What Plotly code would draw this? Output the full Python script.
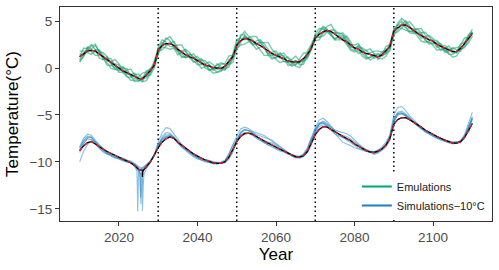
import plotly.graph_objects as go

years = list(range(2010, 2111))
breaks = [2030, 2050, 2070, 2090]
x_ticks = [2020, 2040, 2060, 2080, 2100]
y_ticks = [-15, -10, -5, 0, 5]

emu_mean = [
    1.2, 1.5, 1.8, 1.9, 1.8, 1.5, 1.2, 0.9, 0.55, 0.3,
    0.0, -0.3, -0.5, -0.7, -0.85, -1.1, -1.15, -0.75, -0.3, 0.3,
    1.9, 2.4, 2.6, 2.6, 2.4, 2.0, 1.7, 1.4, 1.2, 1.05,
    0.8, 0.55, 0.3, 0.2, 0.05, 0.0, -0.05, 0.2, 0.7, 1.2,
    2.4, 2.9, 3.15, 3.1, 2.9, 2.6, 2.4, 2.1, 1.8, 1.55,
    1.35, 1.2, 1.0, 0.75, 0.65, 0.65, 0.65, 1.0, 1.45, 2.1,
    3.2, 3.6, 3.85, 4.0, 3.9, 3.6, 3.3, 3.0, 2.8, 2.5,
    2.15, 2.0, 1.7, 1.55, 1.45, 1.35, 1.2, 1.4, 1.85, 2.3,
    3.9, 4.3, 4.55, 4.6, 4.35, 4.0, 3.7, 3.45, 3.2, 3.0,
    2.85, 2.5, 2.3, 2.1, 1.9, 1.75, 1.75, 2.1, 2.6, 3.1, 3.7,
]

sim_mean = [
    -8.8, -8.3, -7.95, -7.85, -8.1, -8.4, -8.65, -8.9, -9.1, -9.3,
    -9.5, -9.7, -9.9, -10.1, -10.4, -10.8, -10.9, -10.5, -10.0, -9.3,
    -8.5, -7.9, -7.55, -7.35, -7.5, -7.9, -8.25, -8.55, -8.85, -9.15,
    -9.4, -9.6, -9.8, -9.95, -10.1, -10.15, -10.15, -10.0, -9.5, -8.7,
    -7.85, -7.3, -7.0, -6.95, -7.05, -7.3, -7.55, -7.8, -8.0, -8.2,
    -8.45, -8.65, -8.85, -9.05, -9.25, -9.45, -9.5, -9.35, -8.9, -8.0,
    -7.1, -6.55, -6.25, -6.3, -6.55, -6.8, -7.05, -7.3, -7.5, -7.75,
    -8.1, -8.35, -8.6, -8.8, -8.95, -9.0, -8.85, -8.6, -8.2, -7.5,
    -6.0, -5.5, -5.3, -5.3, -5.5, -5.75, -6.0, -6.3, -6.6, -6.85,
    -7.05, -7.3, -7.5, -7.7, -7.85, -8.0, -8.0, -7.85, -7.4, -6.7, -5.9,
]

# member deviations from the mean, in units of 0.15 degC
EMU_UNIT = 0.15
emu_g1 = [2, -1, 3, 1, 4, 2, -2, 1, 3, 0,
          -3, -1, 2, 4, 1, -2, 0, 3, 1, -1,
          2, 4, 1, -2, -1, 3, 5, 2, -1, 0,
          3, 1, -2, -3, 0, 2, 4, 1, -1, 2,
          4, 2, -1, 1, 3, 5, 2, 0, -2, 1,
          3, 0, -2, -1, 2, 4, 1, -1, 2, 3,
          1, -2, 0, 3, 5, 2, -1, 1, 4, 2,
          -1, -3, 0, 2, 4, 1, -2, 0, 3, 1,
          2, 0, -2, 1, 4, 3, 0, -2, 1, 3,
          2, -1, -3, 0, 3, 1, -1, 2, 4, 1, 0]
emu_g2 = [-2, 1, -1, -3, 0, 2, -1, -4, -2, 1,
          2, -1, -3, -2, 1, 3, 0, -2, -1, 2,
          -1, -3, -2, 1, 0, -2, -4, -1, 2, 1,
          -2, -4, -1, 1, -1, -3, -2, 0, -2, -1,
          -3, -1, 2, 0, -2, -4, -1, 1, -1, -3,
          -2, 1, 2, -1, -3, -2, 0, -2, -1, 1,
          -2, -4, -1, 0, -2, -3, 0, 2, -1, -2,
          0, 2, -1, -3, -2, 1, 2, -1, -2, 0,
          -3, -1, 1, -2, -4, -2, 0, 1, -1, -3,
          -1, 1, 2, -1, -3, -2, 0, -1, -3, -1, 1]
emu_g3 = [4, 2, 0, 3, 5, 1, 3, 2, -1, -2,
          0, 3, 1, -1, -2, 1, 4, 2, 0, 3,
          1, 0, 3, 5, 2, -1, 1, 4, 3, 0,
          -1, 2, 3, 1, -2, 0, 3, 2, 4, 1,
          0, 3, 5, 2, 1, -1, 2, 4, 6, 3,
          1, -1, 0, 3, 1, -2, 2, 4, 1, -1,
          3, 4, 2, -1, 1, 3, 2, 5, 3, 0,
          2, 4, 1, -1, 1, 3, 4, 2, -1, 2,
          0, 3, 5, 2, -1, 1, 3, 5, 2, 0,
          1, 3, 1, -2, 0, 2, 3, 1, -1, 2, 3]
emu_g4 = [-3, -2, 1, -1, -3, -1, 0, -2, -4, -3,
          -1, 0, -2, -4, -3, -1, -2, -4, -2, 0,
          -2, -1, -3, -4, -2, -1, -3, -2, 0, -2,
          -3, -1, 0, -2, -4, -3, -1, -3, -2, -4,
          -2, -3, -4, -2, 0, -1, -3, -5, -3, -1,
          -3, -4, -2, 0, -1, -3, -4, -2, -3, -1,
          0, -2, -3, -1, -3, -4, -2, 0, -2, -4,
          -3, -1, -3, -4, -2, 0, -1, -3, -4, -2,
          -1, -3, -2, -4, -3, -1, -2, -4, -3, -1,
          -3, -4, -2, 0, -2, -4, -3, -1, -2, -3, -2]
emu_g5 = [0, 4, 2, -1, 1, 3, 1, -1, 1, 4,
          3, 1, -1, 0, 2, 0, -2, 1, 2, -1,
          0, 2, -1, 0, 3, 1, -1, -2, 1, 3,
          1, -1, 1, 3, 2, -1, 0, -2, 1, 0,
          2, 0, 1, -1, -2, 2, 4, 3, 1, -1,
          0, 2, 4, 2, 0, 1, -1, 0, -2, 0,
          2, 1, 3, 0, -1, 1, 3, 4, 1, -1,
          0, 1, 3, 2, 0, -2, 0, 2, 1, -1,
          1, 2, 0, 3, 1, -1, 1, 2, 4, 2,
          0, -2, 0, 2, 1, -1, 0, 3, 1, 0, -1]
emu_g6 = [-4, -1, 2, 4, 1, -3, -2, 2, 0, -3,
          -2, 2, 3, -1, -4, -2, 1, -1, -3, -2,
          -3, 1, 4, 2, -2, -4, 0, 3, 0, -3,
          0, 3, 1, -3, -1, 3, 1, -2, -4, -1,
          -1, 4, 3, -1, -3, 0, 3, 1, -3, -4,
          -1, 3, 1, -3, -2, 1, -2, -4, 0, 2,
          -1, 2, 4, 1, -2, -4, 1, 3, 0, -3,
          -2, 3, 2, -2, -4, -1, 2, 0, -2, -3,
          -2, 2, 3, -1, -3, 0, 3, 2, -2, -2,
          -2, 2, 0, -3, -1, 3, 1, -2, 0, 3, 1]

# simulation member deviations from the mean, in tenths of a degree
sim_b1 = [4, 8, 9, 7, 4, 2, 1, 0, -1, -1,
          -1, -1, 0, 0, 1, 1, 1, 0, 0, 1,
          6, 10, 12, 9, 5, 3, 1, 0, -1, -1,
          -2, -2, -1, -1, 0, 0, 1, 2, 4, 6,
          6, 8, 7, 5, 3, 2, 3, 4, 5, 5,
          4, 3, 2, 1, 0, 0, 1, 2, 4, 6,
          8, 10, 9, 6, 3, 1, 0, -1, -2, -2,
          -2, -2, -1, -1, 0, 0, 1, 2, 3, 4,
          10, 13, 12, 8, 4, 2, 1, 0, -1, -1,
          -1, -2, -2, -1, -1, 0, 0, 1, 3, 8, 12]
sim_b2 = [-12, -6, -2, 1, 3, 2, 0, -2, -3, -3,
          -2, -2, -1, 0, 1, 2, 3, 2, 1, 0,
          2, 4, 5, 3, 1, -1, -2, -3, -3, -3,
          -3, -2, -2, -1, -1, 0, 0, -1, -2, -3,
          1, 3, 4, 3, 1, 0, -1, -1, -2, -2,
          -2, -2, -1, -1, 0, 1, 1, 0, -1, -2,
          3, 5, 4, 2, 0, -3, -5, -6, -6, -5,
          -4, -3, -2, -1, 0, 1, 1, 0, -1, -2,
          2, 5, 4, 2, 0, -1, -1, -2, -2, -2,
          -2, -1, -1, 0, 0, 1, 1, 0, -1, 2, 4]
sim_b3 = [2, 5, 6, 4, 1, -2, -3, -3, -2, -2,
          -2, -1, -1, 0, 0, 1, 0, -1, -1, 0,
          3, 6, 7, 4, 2, 1, 0, 0, -1, -1,
          -1, 0, 1, 1, 1, 0, 0, 0, 1, 2,
          3, 5, 4, 3, 3, 4, 5, 6, 5, 4,
          3, 2, 1, 0, -1, -1, 0, 1, 2, 3,
          5, 7, 5, 3, 2, 2, 3, 4, 5, 5,
          4, 3, 2, 1, 0, -1, -1, 0, 0, 1,
          5, 8, 7, 4, 2, 1, 0, -1, -1, -1,
          -1, -1, 0, 0, 0, 0, 1, 1, 2, 5, 7]
sim_b4 = [0, 3, 4, 2, 0, -1, -2, -2, -1, 0,
          0, 1, 1, 2, 2, 3, 2, 2, 1, 1,
          1, 2, 2, 1, 0, -1, -1, -2, -2, -2,
          -2, -2, -1, -1, -1, -1, 0, 1, 3, 5,
          2, 2, 1, 0, -1, -1, -1, -2, -2, -1,
          -1, -1, 0, 0, 0, 0, 0, 1, 3, 5,
          2, 3, 2, 1, 0, 0, 0, 1, 2, 2,
          2, 1, 1, 0, 0, -1, -1, -2, -2, -1,
          3, 6, 5, 3, 1, 0, -1, -1, -2, -2,
          -2, -2, -1, -1, 0, 0, 0, -1, 0, 3, 6]
sim_b5 = [-2, 2, 5, 5, 2, 0, -1, -2, -2, -2,
          -1, -1, 0, 0, -1, -2, -3, -2, -1, 0,
          4, 3, 2, 1, 0, 0, -1, -1, -1, 0,
          0, 0, 0, 1, 1, 1, 0, 0, -1, -1,
          0, 1, 1, 0, -1, -2, -2, -1, -1, 0,
          0, 0, 0, -1, -1, -1, -1, -1, 0, 2,
          6, 6, 4, 1, -1, -2, -2, -1, 0, 1,
          1, 1, 0, 0, -1, -2, -2, -1, 0, 2,
          6, 7, 5, 2, 0, -1, -1, -1, -1, 0,
          0, 0, 0, -1, -1, -1, 0, 0, 1, 4, 6]
sim_b6 = [3, 6, 7, 5, 2, 0, -1, -1, 0, 0,
          0, 0, 1, 1, 2, 2, 1, 1, 0, 0,
          2, 3, 3, 2, 1, 0, 0, -1, -1, -1,
          -1, -1, 0, 0, 0, 1, 1, 1, 0, 0,
          2, 4, 5, 3, 1, 0, 0, 0, 1, 2,
          2, 1, 0, 0, -1, -1, 0, 0, 1, 2,
          4, 6, 6, 4, 2, 0, -1, -1, -1, 0,
          0, 0, 0, 1, 1, 1, 0, 0, 1, 2,
          4, 6, 5, 3, 1, 0, 0, 0, -1, -1,
          -1, 0, 0, 0, 1, 1, 1, 0, 0, 2, 5]

# short cold spikes around 2025-2026 in some simulation members (absolute values)
spike_b2_x = [2024.6, 2024.8, 2025.0, 2025.2]
spike_b2_y = [-11.0, -15.3, -11.6, -11.0]
spike_b3_x = [2025.3, 2025.5, 2025.7]
spike_b3_y = [-11.1, -13.8, -11.3]
spike_b5_x = [2025.8, 2026.0, 2026.2, 2026.4]
spike_b5_y = [-11.4, -15.2, -12.4, -11.3]
spike_b6_x = [2025.4, 2025.6, 2025.8, 2026.0]
spike_b6_y = [-11.2, -14.5, -13.0, -11.2]
spike_mean_x = [2025.9, 2026.0, 2026.1]
spike_mean_y = [-10.9, -11.6, -10.95]

emu_members = [emu_g1, emu_g2, emu_g3, emu_g4, emu_g5, emu_g6]
sim_members = [sim_b1, sim_b2, sim_b3, sim_b4, sim_b5, sim_b6]
sim_spikes = [None, (spike_b2_x, spike_b2_y), (spike_b3_x, spike_b3_y), None,
              (spike_b5_x, spike_b5_y), (spike_b6_x, spike_b6_y)]

for arr in [emu_mean, sim_mean] + emu_members + sim_members:
    assert len(arr) == len(years), len(arr)

GREEN = "#00A676"
BLUE = "#1C7FC4"
FONT = "Liberation Sans, Arial, sans-serif"


def merge(xs, ys, spike):
    pts = list(zip(xs, ys))
    if spike is not None:
        pts += list(zip(spike[0], spike[1]))
    pts.sort(key=lambda p: p[0])
    return [p[0] for p in pts], [p[1] for p in pts]


fig = go.Figure()

for off in emu_members:
    fig.add_trace(go.Scatter(
        x=years, y=[m + o * EMU_UNIT for m, o in zip(emu_mean, off)], mode="lines",
        line=dict(color="#0E9E70", width=1.4), opacity=0.55, showlegend=False,
        hoverinfo="skip"))

for off, spk in zip(sim_members, sim_spikes):
    xs, ys = merge(years, [m + o / 10 for m, o in zip(sim_mean, off)], spk)
    fig.add_trace(go.Scatter(
        x=xs, y=ys, mode="lines",
        line=dict(color="#2B8BCB", width=1.1), opacity=0.55, showlegend=False,
        hoverinfo="skip"))

sx, sy = merge(years, sim_mean, (spike_mean_x, spike_mean_y))
for xs, ys in [(years, emu_mean), (sx, sy)]:
    fig.add_trace(go.Scatter(x=xs, y=ys, mode="lines",
                             line=dict(color="black", width=1.3),
                             showlegend=False))
for xs, ys in [(years, emu_mean), (years, sim_mean)]:
    fig.add_trace(go.Scatter(x=xs, y=ys, mode="lines",
                             line=dict(color="#FF1A1A", width=1.2, dash="4px,3px"),
                             showlegend=False))

# legend-only entries
fig.add_trace(go.Scatter(x=[None], y=[None], mode="lines", name="Emulations",
                         line=dict(color=GREEN, width=2)))
fig.add_trace(go.Scatter(x=[None], y=[None], mode="lines", name="Simulations−10°C",
                         line=dict(color=BLUE, width=2)))

for b in breaks:
    fig.add_shape(type="line", xref="x", yref="paper", x0=b, x1=b, y0=0, y1=1,
                  line=dict(color="black", width=1.5, dash="1.5px,3px"), layer="below")

axis_common = dict(showgrid=False, zeroline=False, showline=True, mirror=True,
                   linecolor="#333333", linewidth=1, ticks="outside", ticklen=4,
                   tickcolor="#333333", automargin=False,
                   tickfont=dict(family=FONT, size=13.5, color="#4D4D4D"))

fig.update_layout(
    width=499, height=270,
    margin=dict(l=60, r=7, t=7, b=49, autoexpand=False),
    paper_bgcolor="white", plot_bgcolor="white",
    font=dict(family=FONT),
    xaxis=dict(range=[2005, 2115], tickvals=x_ticks,
               title=dict(text="Year", font=dict(family=FONT, size=17, color="black"),
                          standoff=2),
               **axis_common),
    yaxis=dict(range=[-16.3, 6.5], tickvals=y_ticks,
               title=dict(text="Temperature(°C)", font=dict(family=FONT, size=17, color="black"),
                          standoff=6),
               **axis_common),
    legend=dict(x=0.995, y=0.005, xanchor="right", yanchor="bottom",
                bgcolor="white", borderwidth=0,
                font=dict(family=FONT, size=11, color="#1A1A1A"),
                tracegroupgap=0),
    showlegend=True,
)

fig.write_html("out.html", config={"displayModeBar": False},
               post_script="document.body.style.margin='0';document.body.style.overflow='hidden';")
